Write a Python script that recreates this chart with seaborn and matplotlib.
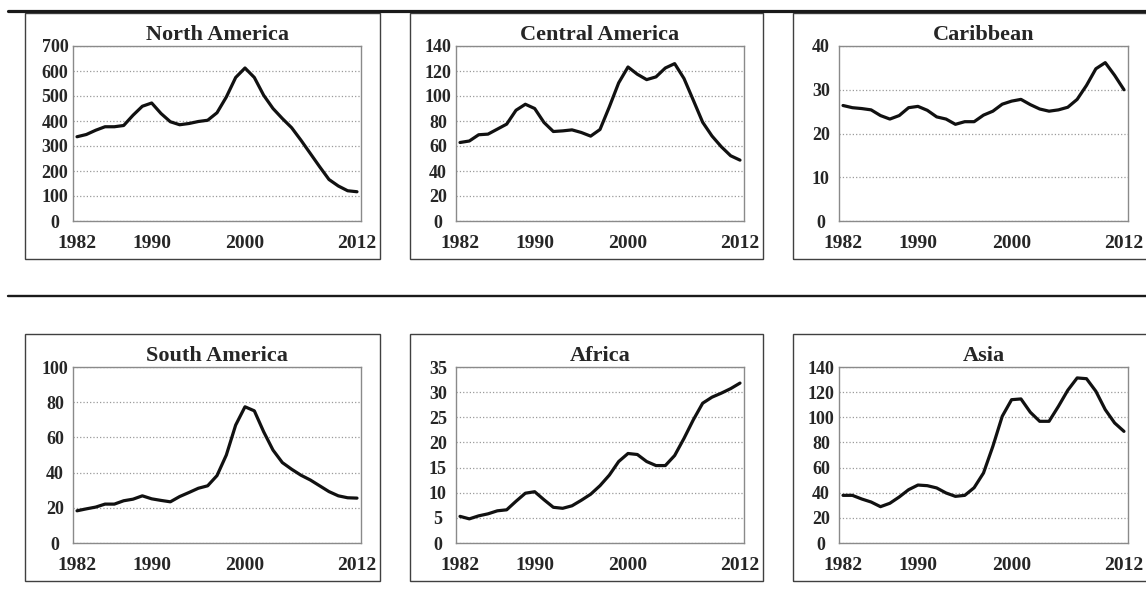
import numpy as np
import pandas as pd
import seaborn as sns
import matplotlib.pyplot as plt
from matplotlib.patches import Rectangle
from matplotlib.lines import Line2D

years = list(range(1982, 2013))

north_america = [337, 346, 363, 377, 377, 382, 423, 459, 472, 430, 397, 385, 390, 398, 403, 433,
                 496, 574, 612, 574, 503, 450, 410, 373, 323, 270, 217, 166, 140, 121, 117]
central_america = [62.8, 64, 69, 69.5, 73.5, 77.5, 88.6, 93.4, 90, 78.8, 71.6, 72.1, 72.9, 70.8,
                   67.9, 73.2, 91.3, 110.5, 123.2, 117.4, 113.1, 115.3, 122.4, 125.9, 114,
                   96.6, 79, 68, 59.4, 52.2, 48.7]
caribbean = [26.4, 25.9, 25.7, 25.4, 24.1, 23.3, 24.1, 25.9, 26.2, 25.3, 23.8, 23.3, 22.1, 22.7,
             22.7, 24.2, 25.1, 26.7, 27.4, 27.8, 26.6, 25.6, 25.1, 25.4, 26.0, 27.8, 31.0,
             34.8, 36.2, 33.3, 30.0]
south_america = [18.3, 19.4, 20.4, 22.1, 22.1, 24, 24.9, 26.8, 25.1, 24.2, 23.4, 26.4, 28.7,
                 31.1, 32.5, 38.3, 50, 67, 77.4, 75.1, 63.2, 52.8, 45.7, 41.9, 38.5, 35.8,
                 32.5, 29.2, 26.8, 25.7, 25.5]
africa = [5.3, 4.8, 5.4, 5.8, 6.4, 6.6, 8.3, 9.9, 10.2, 8.6, 7.1, 6.9, 7.4, 8.5, 9.7, 11.4,
          13.5, 16.2, 17.8, 17.6, 16.2, 15.4, 15.4, 17.4, 20.8, 24.5, 27.8, 29.0, 29.8,
          30.7, 31.8]
asia = [37.9, 37.9, 35, 32.6, 28.9, 31.6, 36.6, 42.4, 46.1, 45.6, 43.8, 39.8, 37.1, 37.9, 44,
        55.7, 76.9, 100.8, 114, 114.6, 104, 96.8, 96.8, 108.7, 121.5, 131.3, 130.7, 120.7,
        106.1, 95.5, 88.8]

regions = ["North America", "Central America", "Caribbean",
           "South America", "Africa", "Asia"]
series = [north_america, central_america, caribbean, south_america, africa, asia]
y_max = [700, 140, 40, 100, 35, 140]
y_step = [100, 20, 10, 20, 5, 20]
x_ticks = [1982, 1990, 2000, 2012]

sns.set_theme(style="white")
plt.rcParams['font.family'] = ['Liberation Serif', 'DejaVu Serif']
plt.rcParams['font.weight'] = 'bold'

W, H = 1146, 596
fig = plt.figure(figsize=(W / 100, H / 100), dpi=100)

# plot areas in pixels (left, top, right, bottom)
col_px = [(73, 361), (456, 744), (839, 1128)]
row_px = [(46, 221), (367, 543)]
box_col = [(25, 380), (410, 763), (793, 1160)]
box_row = [(13, 259), (334, 581)]

for i, (name, vals) in enumerate(zip(regions, series)):
    r, c = divmod(i, 3)
    l, rt = col_px[c]
    t, b = row_px[r]
    # outer frame of each small chart
    bl, br = box_col[c]
    bt, bb = box_row[r]
    fig.patches.append(Rectangle((bl / W, 1 - bb / H), (br - bl) / W, (bb - bt) / H,
                                 transform=fig.transFigure, fill=False,
                                 edgecolor='#404040', linewidth=1.0, zorder=0))
    ax = fig.add_axes([l / W, 1 - b / H, (rt - l) / W, (b - t) / H])
    df = pd.DataFrame({'year': years, 'value': vals})
    sns.lineplot(data=df, x='year', y='value', ax=ax, color='#111111', linewidth=2.3)
    ax.set_xlim(1981.57, 2012.43)
    ax.set_ylim(0, y_max[i])
    ax.set_yticks(np.arange(0, y_max[i] + 0.1, y_step[i]))
    ax.set_xticks(x_ticks)
    ax.set_xticklabels([str(x) for x in x_ticks], fontsize=14, fontweight='bold')
    ax.set_yticklabels([str(int(v)) for v in ax.get_yticks()], fontsize=13,
                       fontweight='bold', ha='center')
    ax.tick_params(axis='y', length=0, pad=13)
    ax.tick_params(axis='x', length=0, pad=10)
    ax.yaxis.grid(True, linestyle=':', color='#9a9a9a', linewidth=0.9)
    ax.xaxis.grid(False)
    for s in ax.spines.values():
        s.set_color('#8a8a8a')
        s.set_linewidth(1.0)
    ax.set_xlabel('')
    ax.set_ylabel('')
    ax.set_title(name, fontsize=16, fontweight='bold', pad=4)

# separator rules
fig.add_artist(Line2D([8 / W, 1], [1 - 10.8 / H] * 2, color='#1a1a1a', linewidth=2.3))
fig.add_artist(Line2D([8 / W, 1], [1 - 296 / H] * 2, color='#1a1a1a', linewidth=1.7))

fig.savefig('out.png', dpi=100)
